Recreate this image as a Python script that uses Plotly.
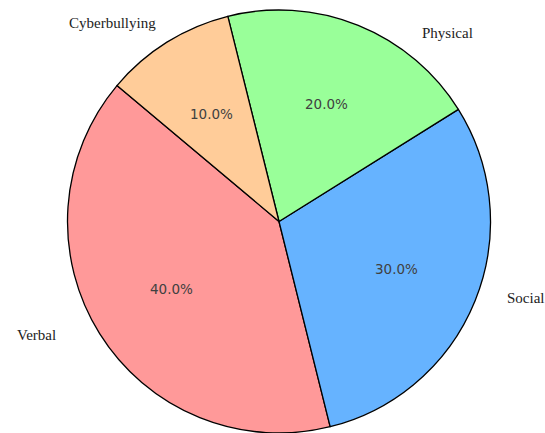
import math
import plotly.graph_objects as go

# Bullying types and their shares
categories = ["Verbal", "Social", "Physical", "Cyberbullying"]
shares = [40, 30, 20, 10]
colors = ["#ff9999", "#66b3ff", "#99ff99", "#ffcc99"]

W, H = 545, 433
START_ANGLE = 140  # degrees, counter-clockwise from 3 o'clock

# pie placement in pixels
cx_px, top_px, r_px = 279, 10, 211.5
dom_x = [(cx_px - r_px) / W, (cx_px + r_px) / W]
dom_y = [1 - (top_px + 2 * r_px) / H, 1 - top_px / H]

total = sum(shares)
# plotly's counter-clockwise mode ends the first slice at `rotation`
# (measured clockwise from 12 o'clock), so shift by the first slice's span
rotation = (90 - START_ANGLE) - 360 * shares[0] / total
rotation = ((rotation + 360) % 720) - 360

fig = go.Figure(
    go.Pie(
        labels=categories,
        values=shares,
        marker=dict(colors=colors, line=dict(color="black", width=1.3)),
        sort=False,
        direction="counterclockwise",
        rotation=rotation,
        textinfo="none",
        hoverinfo="label+percent",
        showlegend=False,
        domain=dict(x=dom_x, y=dom_y),
    )
)

# percentage labels at 0.6 radius, on each slice's mid angle
cx = cx_px / W
cy = 1 - (top_px + r_px) / H
acc = 0
annotations = []
for cat, v in zip(categories, shares):
    mid = START_ANGLE + 360 * (acc + v / 2) / total
    acc += v
    a = math.radians(mid)
    annotations.append(dict(
        x=cx + 0.6 * r_px * math.cos(a) / W,
        y=cy + 0.6 * r_px * math.sin(a) / H,
        xref="paper", yref="paper", showarrow=False,
        xanchor="center", yanchor="middle",
        text=f"{100 * v / total:.1f}%",
        font=dict(family="DejaVu Sans", size=13.5, color="#404040"),
    ))

# category names outside the pie
label_pos = {
    "Verbal": (58, 335, "right"),
    "Social": (505, 298, "left"),
    "Physical": (420, 33, "left"),
    "Cyberbullying": (158, 23, "right"),
}
for cat in categories:
    px, py, anchor = label_pos[cat]
    annotations.append(dict(
        x=px / W, y=1 - py / H, xref="paper", yref="paper",
        xanchor=anchor, yanchor="middle", showarrow=False, text=cat,
        font=dict(family="Liberation Serif", size=15, color="#222222"),
    ))

fig.update_layout(
    width=W, height=H,
    margin=dict(l=0, r=0, t=0, b=0),
    paper_bgcolor="white",
    plot_bgcolor="white",
    annotations=annotations,
)

fig.write_html("out.html")
